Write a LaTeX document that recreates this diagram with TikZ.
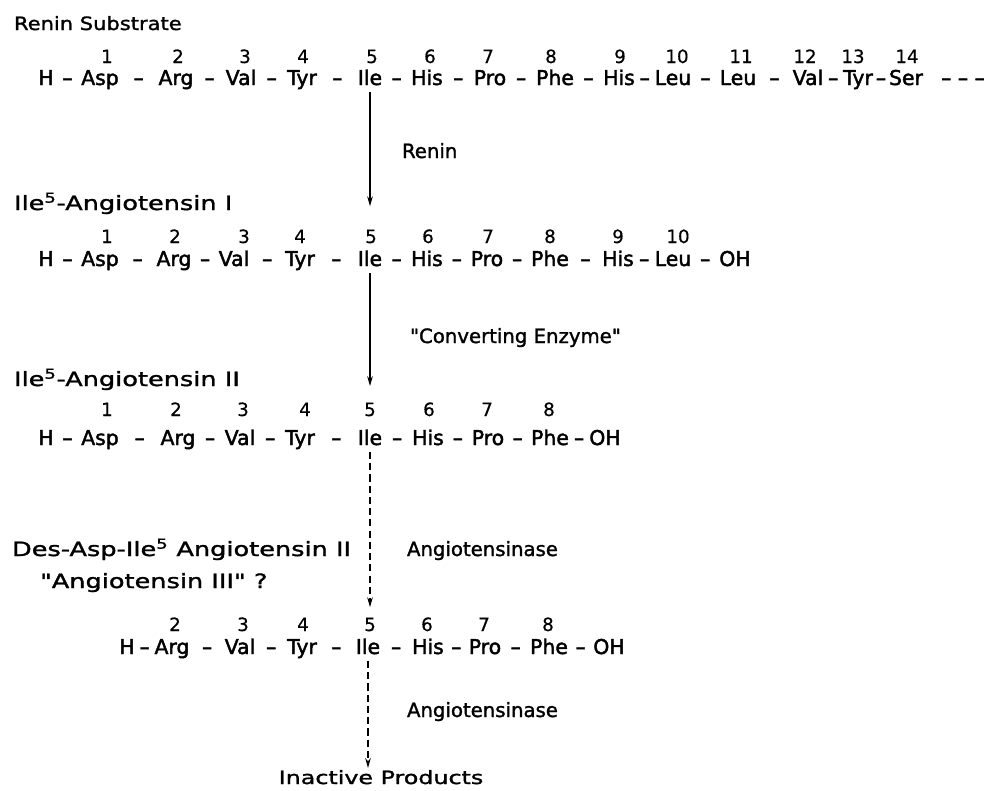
\documentclass[tikz,border=0pt]{standalone}
\usepackage{fontspec}
\setmainfont[FakeBold=2]{DejaVu Sans}
\newfontfamily\widesans[FakeStretch=1.3,FakeBold=1.5]{DejaVu Sans}
\newfontfamily\subsans[FakeStretch=1.15,FakeBold=1.5]{DejaVu Sans}
\newfontfamily\enzsans[FakeBold=1.5]{DejaVu Sans}
\newfontfamily\numsans[FakeBold=0.5]{DejaVu Sans}
\usetikzlibrary{arrows.meta,calc}

\begin{document}
\begin{tikzpicture}[x=0.025cm, y=-0.025cm, >={Stealth[length=7pt,width=4pt]}, line width=0.9pt,
    res/.style={font=\fontsize{14.5}{16}\selectfont, anchor=base, inner sep=1pt, text height=10.5pt, text depth=3.5pt},
    num/.style={font=\numsans\fontsize{13}{15}\selectfont, anchor=base, inner sep=1pt, text height=9.5pt},
    lbl/.style={font=\widesans\fontsize{14}{16}\selectfont, anchor=base west, inner sep=1pt},
    enz/.style={font=\enzsans\fontsize{14}{16}\selectfont, anchor=base west, inner sep=1pt, text height=10pt},
    split/.style={->, dash pattern=on 5pt off 3pt}]
    \useasboundingbox (0,0) rectangle (999,790);

    % Renin substrate
    \node[enz, font=\subsans\fontsize{13}{15}\selectfont] (sub) at (12,30) {Renin Substrate};
    \foreach \x/\r [count=\i from 0] in {46/H,100/Asp,176/Arg,241/Val,302/Tyr,370/Ile,427/His,490/Pro,555/Phe,619/His,673/Leu,738/Leu,808/Val,858/Tyr,906/Ser}
        \node[res] (r1-\i) at (\x,85) {\r};
    \foreach \x [count=\i] in {107,178,245,303,372,430,488,551,620,677,741,805,853,907}
        \node[num] (n1-\i) at (\x,63) {\i};
    \foreach \i [evaluate=\i as \j using int(\i-1)] in {1,...,14}
        \node[res] (d1-\i) at ($(r1-\j.base east)!0.5!(r1-\i.base west)$) {--};
    \node[res] (d1-15) at (963,85) {-- -- --};

    % Angiotensin I
    \node[lbl] (ang1) at (12,210) {Ile\textsuperscript{5}-Angiotensin I};
    \foreach \x/\r [count=\i from 0] in {46/H,100/Asp,174/Arg,234/Val,300/Tyr,370/Ile,427/His,487/Pro,550/Phe,618/His,673/Leu,735/OH}
        \node[res] (r2-\i) at (\x,266) {\r};
    \foreach \x [count=\i] in {107,175,244,300,371,428,488,550,618,678}
        \node[num] (n2-\i) at (\x,243) {\i};
    \foreach \i [evaluate=\i as \j using int(\i-1)] in {1,...,11}
        \node[res] (d2-\i) at ($(r2-\j.base east)!0.5!(r2-\i.base west)$) {--};

    % Angiotensin II
    \node[lbl] (ang2) at (12,386) {Ile\textsuperscript{5}-Angiotensin II};
    \foreach \x/\r [count=\i from 0] in {46/H,100/Asp,178/Arg,240/Val,300/Tyr,370/Ile,428/His,488/Pro,550/Phe,605/OH}
        \node[res] (r3-\i) at (\x,445) {\r};
    \foreach \x [count=\i] in {107,176,243,305,370,429,487,549}
        \node[num] (n3-\i) at (\x,416) {\i};
    \foreach \i [evaluate=\i as \j using int(\i-1)] in {1,...,9}
        \node[res] (d3-\i) at ($(r3-\j.base east)!0.5!(r3-\i.base west)$) {--};

    % Angiotensin III
    \node[lbl] (ang3) at (10,556) {Des-Asp-Ile\textsuperscript{5} Angiotensin II};
    \node[lbl] (ang3q) at (38,588) {"Angiotensin III" ?};
    \foreach \x/\r [count=\i from 1] in {127/H,172/Arg,240/Val,302/Tyr,368/Ile,428/His,485/Pro,549/Phe,609/OH}
        \node[res] (r4-\i) at (\x,654) {\r};
    \foreach \x [count=\i from 2] in {175,243,303,370,427,484,548}
        \node[num] (n4-\i) at (\x,631) {\i};
    \foreach \i [evaluate=\i as \j using int(\i-1)] in {2,...,9}
        \node[res] (d4-\i) at ($(r4-\j.base east)!0.5!(r4-\i.base west)$) {--};

    % Enzymes
    \node[enz] (renin) at (400,158) {Renin};
    \node[enz] (ace) at (408,343) {\textquotedbl Converting Enzyme\textquotedbl};
    \node[enz] (ase1) at (405,556) {Angiotensinase};
    \node[enz] (ase2) at (405,717) {Angiotensinase};
    \node[enz, font=\widesans\fontsize{13}{15}\selectfont, anchor=base] (prod) at (381,784) {Inactive Products};

    % Cleavage arrows
    \draw[->] (r1-5.south) -- (r1-5.south |- ang1.mid);
    \draw[->] (r2-5.south) -- (r2-5.south |- ang2.base);
    \draw[split, shorten >=6pt] (r3-5.south) -- (r3-5.south |- n4-5.north);
    \draw[split] (r4-5.south) -- (r4-5.south |- prod.north);
\end{tikzpicture}
\end{document}
